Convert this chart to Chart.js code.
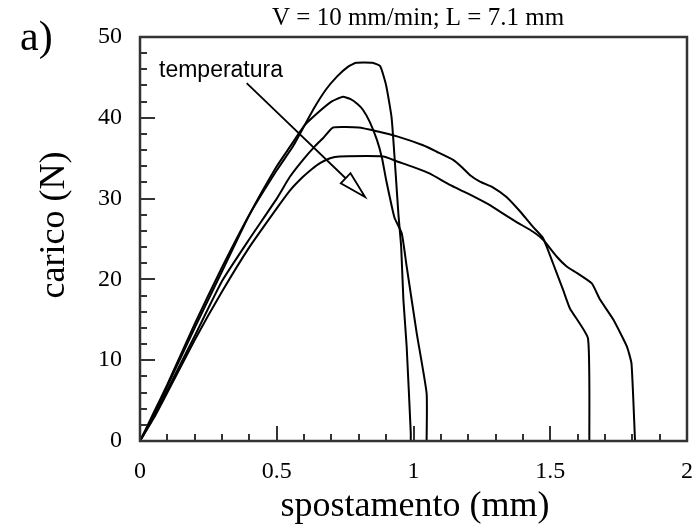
<!DOCTYPE html>
<html>
<head>
<meta charset="utf-8">
<script src="https://cdn.jsdelivr.net/npm/chart.js@4.4.0/dist/chart.umd.min.js"></script>
<style>
  body { margin: 0; background: #fff; }
</style>
</head>
<body>
<canvas id="grafico" width="700" height="530"></canvas>
<script>
// curve carico-spostamento (x in mm, y in N)
const curva1 = [[0,0],[0.05,3.5],[0.1,7],[0.2,14.5],[0.3,21.5],[0.4,28],[0.5,33.5],[0.56,36.5],[0.633,41],[0.68,43.5],[0.72,45.1],[0.76,46.3],[0.79,46.8],[0.85,46.8],[0.878,46.4],[0.9,44],[0.92,40],[0.935,33],[0.945,28],[0.955,24],[0.963,17.5],[0.975,11.7],[0.99,1],[0.99,0]]
const curva2 = [[0,0],[0.05,3.2],[0.1,6.8],[0.2,14],[0.3,21],[0.4,28],[0.5,34],[0.548,36.4],[0.6,39],[0.646,40.5],[0.7,42],[0.742,42.6],[0.77,42.3],[0.795,41.7],[0.815,41],[0.84,39.5],[0.866,37.3],[0.885,35],[0.9,32.3],[0.93,27.7],[0.957,25.7],[0.975,21.6],[1.012,13.3],[1.048,5.9],[1.048,0]]
const curva3 = [[0,0],[0.05,3],[0.1,6.3],[0.2,13],[0.3,19.8],[0.4,25],[0.5,30],[0.548,32.7],[0.596,34.8],[0.64,36.5],[0.67,37.5],[0.706,38.8],[0.8,38.8],[0.87,38.3],[0.94,37.7],[1.035,36.6],[1.085,35.8],[1.145,34.8],[1.18,33.8],[1.207,32.9],[1.243,32.1],[1.29,31.4],[1.34,30.2],[1.39,28.4],[1.437,26.5],[1.474,25.1],[1.51,22],[1.547,18.7],[1.572,16.4],[1.638,12.7],[1.643,0]]
const curva4 = [[0,0],[0.05,2.8],[0.1,6],[0.2,12.5],[0.3,18.5],[0.4,24],[0.5,28.8],[0.548,31],[0.596,32.7],[0.63,33.7],[0.658,34.4],[0.695,35],[0.73,35.2],[0.89,35.2],[0.94,34.6],[1.0,33.9],[1.06,33.1],[1.133,31.7],[1.194,30.7],[1.268,29.4],[1.316,28.4],[1.377,27.1],[1.437,25.9],[1.474,24.9],[1.524,22.8],[1.56,21.6],[1.597,20.8],[1.652,19.5],[1.682,17.5],[1.731,15],[1.78,11.7],[1.797,9.6],[1.81,0]]

const xTickLabels = ['0', '0.5', '1', '1.5', '2']
const yTickLabels = ['0', '10', '20', '30', '40', '50']
const xTacche = [0.1,0.2,0.3,0.4,0.5,0.6,0.7,0.8,0.9,1,1.1,1.2,1.3,1.4,1.5,1.6,1.7,1.8,1.9]
const yTacche = [2,4,6,8,10,12,14,16,18,20,22,24,26,28,30,32,34,36,38,40,42,44,46,48]

const titolo = 'V = 10 mm/min; L = 7.1 mm'
const titoloX = 'spostamento (mm)'
const titoloY = 'carico (N)'
// freccia "temperatura": inizio e punta in unita' del grafico
const frecciaDa = [0.39, 44.3]
const frecciaA = [0.823, 30.2]

const serif = '"Liberation Serif", "Times New Roman", serif'

function punti(c) {
    return c.map(function (p) { return { x: p[0], y: p[1] } })
}

// tacche interne, cornice e testi
const decorazioni = {
    id: 'decorazioni',
    afterDatasetsDraw(chart) {
        const ctx = chart.ctx
        const a = chart.chartArea
        const sx = chart.scales.x
        const sy = chart.scales.y
        ctx.save()
        ctx.strokeStyle = '#333'
        ctx.lineWidth = 2
        ctx.beginPath()
        xTacche.forEach(function (v) {
            const px = Math.round(sx.getPixelForValue(v))
            const len = (Math.round(v * 10) % 5 == 0) ? 15 : 7
            ctx.moveTo(px, a.bottom)
            ctx.lineTo(px, a.bottom - len)
        })
        yTacche.forEach(function (v) {
            const py = Math.round(sy.getPixelForValue(v))
            const len = (v % 10 == 0) ? 15 : 7
            ctx.moveTo(a.left, py)
            ctx.lineTo(a.left + len, py)
        })
        ctx.stroke()
        ctx.lineWidth = 2.5
        ctx.strokeRect(a.left, a.top, a.right - a.left, a.bottom - a.top)

        // freccia
        const x0 = sx.getPixelForValue(frecciaDa[0]), y0 = sy.getPixelForValue(frecciaDa[1])
        const x1 = sx.getPixelForValue(frecciaA[0]), y1 = sy.getPixelForValue(frecciaA[1])
        const ang = Math.atan2(y1 - y0, x1 - x0)
        const lh = 27, hw = 7
        const bx = x1 - lh * Math.cos(ang), by = y1 - lh * Math.sin(ang)
        ctx.strokeStyle = '#000'
        ctx.lineWidth = 1.8
        ctx.beginPath()
        ctx.moveTo(x0, y0)
        ctx.lineTo(bx, by)
        ctx.stroke()
        ctx.beginPath()
        ctx.moveTo(x1, y1)
        ctx.lineTo(bx + hw * Math.sin(ang), by - hw * Math.cos(ang))
        ctx.lineTo(bx - hw * Math.sin(ang), by + hw * Math.cos(ang))
        ctx.closePath()
        ctx.fillStyle = '#fff'
        ctx.fill()
        ctx.stroke()

        ctx.fillStyle = '#000'
        ctx.textBaseline = 'alphabetic'
        ctx.textAlign = 'left'
        ctx.font = '23px "Liberation Sans", Arial, sans-serif'
        ctx.fillText('temperatura', 159, 77)

        ctx.font = '25px ' + serif
        ctx.fillText(titolo, 272, 25)
        ctx.font = '42px ' + serif
        ctx.fillText('a)', 20, 50)

        ctx.textAlign = 'center'
        ctx.font = '36px ' + serif
        ctx.fillText(titoloX, 415, 516)
        ctx.translate(64, 225)
        ctx.rotate(-Math.PI / 2)
        ctx.fillText(titoloY, 0, 0)
        ctx.restore()
    }
}

const stileLinea = { borderColor: '#000', borderWidth: 2, pointRadius: 0, showLine: true, fill: false, tension: 0.15 }

const chart = new Chart(document.getElementById('grafico').getContext('2d'), {
    type: 'scatter',
    data: {
        datasets: [
            Object.assign({ data: punti(curva1) }, stileLinea),
            Object.assign({ data: punti(curva2) }, stileLinea),
            Object.assign({ data: punti(curva3) }, stileLinea),
            Object.assign({ data: punti(curva4) }, stileLinea)
        ]
    },
    options: {
        responsive: false,
        animation: false,
        layout: { padding: { top: 37, right: 13, left: 0, bottom: 0 } },
        plugins: { legend: { display: false }, tooltip: { enabled: false } },
        scales: {
            x: {
                type: 'linear', min: 0, max: 2,
                grid: { display: false, drawTicks: false },
                border: { display: false },
                ticks: {
                    stepSize: 0.5, padding: 16, color: '#000',
                    font: { family: serif, size: 24 },
                    callback: function (v) { return xTickLabels[Math.round(v * 2)] }
                },
                afterFit: function (s) { s.height = 89; s.paddingRight = 0; s.paddingLeft = 0 }
            },
            y: {
                type: 'linear', min: 0, max: 50,
                grid: { display: false, drawTicks: false },
                border: { display: false },
                ticks: {
                    stepSize: 10, padding: 18, color: '#000',
                    font: { family: serif, size: 24 },
                    callback: function (v) { return yTickLabels[Math.round(v / 10)] }
                },
                afterFit: function (s) { s.width = 140 }
            }
        }
    },
    plugins: [decorazioni]
})
</script>
</body>
</html>
